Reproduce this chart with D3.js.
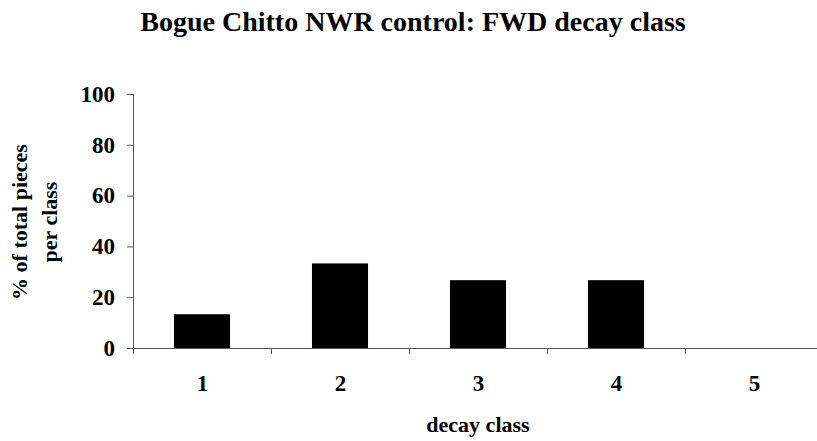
<!DOCTYPE html>
<html>
<head>
<meta charset="utf-8">
<script src="https://cdn.jsdelivr.net/npm/d3@7"></script>
<style>
  body { margin: 0; background: #fff; }
  svg text { font-family: "Liberation Serif", "Times New Roman", serif; font-weight: bold; fill: #000; }
</style>
</head>
<body>
<div id="chart"></div>
<script>
// chart data
const categories = ["1", "2", "3", "4", "5"];
const percents = [13.3, 33.3, 26.7, 26.7, 0];
const yTicks = [0, 20, 40, 60, 80, 100];

const W = 817, H = 441;
const plot = {left: 133, right: 823, top: 94, bottom: 348};

const svg = d3.select("#chart").append("svg")
    .attr("width", W)
    .attr("height", H);

const x = d3.scaleBand().domain(categories).range([plot.left, plot.right])
    .paddingInner(0.594).paddingOuter(0.297);
const xEdge = d3.scaleLinear().domain([0, categories.length]).range([plot.left, plot.right]);
const y = d3.scaleLinear().domain([0, 100]).range([plot.bottom, plot.top]);

// bars
svg.append("g")
    .selectAll("rect")
    .data(percents)
    .join("rect")
    .attr("x", (d, i) => x(categories[i]))
    .attr("y", d => y(d))
    .attr("width", x.bandwidth())
    .attr("height", d => y(0) - y(d))
    .attr("fill", "#000");

// y axis
const yAxis = svg.append("g")
    .attr("transform", `translate(${plot.left},0)`)
    .call(d3.axisLeft(y).tickValues(yTicks).tickSize(6).tickPadding(12));
yAxis.selectAll("text").style("font-size", "23px");

// x axis: tick marks between categories
svg.append("g")
    .attr("transform", `translate(0,${plot.bottom})`)
    .call(d3.axisBottom(xEdge).tickValues(d3.range(categories.length + 1)).tickFormat("").tickSize(6).tickSizeOuter(0));

// x labels at category centres
const xMid = d3.scalePoint().domain(categories)
    .range([plot.left + x.step() / 2, plot.right - x.step() / 2]);
const xLab = svg.append("g")
    .attr("transform", `translate(0,${plot.bottom})`)
    .call(d3.axisBottom(xMid).tickSize(0).tickPadding(27));
xLab.select(".domain").remove();
xLab.selectAll("text").style("font-size", "23px");

svg.selectAll(".domain, .tick line").attr("stroke", "#555");

// titles
svg.append("text")
    .attr("x", 413).attr("y", 31)
    .attr("text-anchor", "middle")
    .style("font-size", "28px")
    .text("Bogue Chitto NWR control: FWD decay class");

svg.append("text")
    .attr("x", 478).attr("y", 432)
    .attr("text-anchor", "middle")
    .style("font-size", "22px")
    .text("decay class");

const yTitle = svg.append("text")
    .attr("transform", "translate(0,222) rotate(-90)")
    .attr("text-anchor", "middle")
    .style("font-size", "22px");
yTitle.append("tspan").attr("x", 0).attr("y", 27).text("% of total pieces");
yTitle.append("tspan").attr("x", 0).attr("y", 57).text("per class");
</script>
</body>
</html>
